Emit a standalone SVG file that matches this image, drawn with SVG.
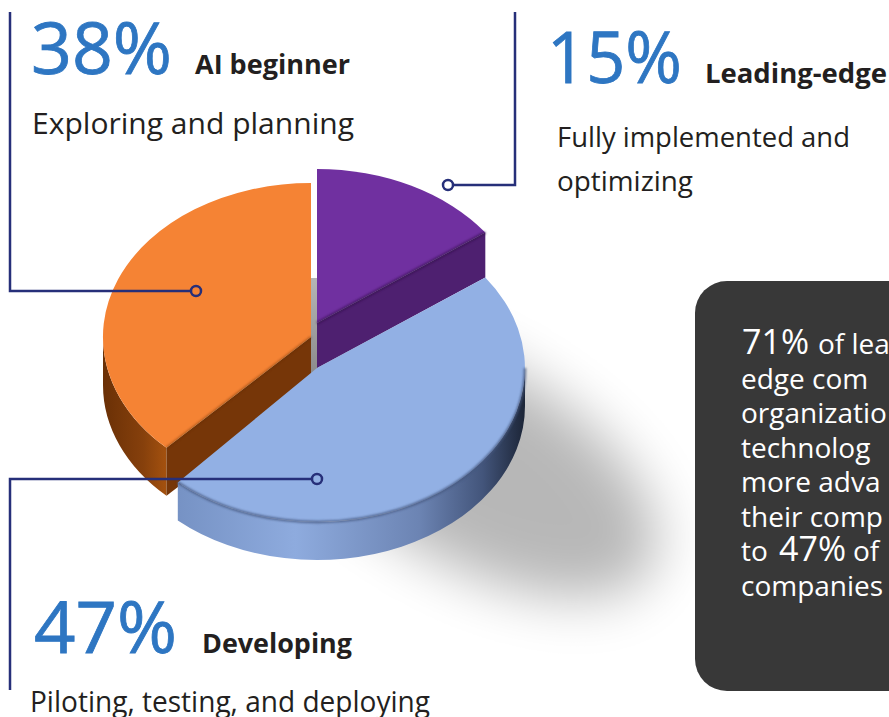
<svg xmlns="http://www.w3.org/2000/svg" width="889" height="717" viewBox="0 0 889 717">
<style>
  .pct{font-family:"Open Sans","Noto Sans",sans-serif;font-size:72px;fill:#2E76C2;stroke:#2E76C2;stroke-width:0.8}
  .ttl{font-family:"Open Sans","Noto Sans",sans-serif;font-size:26px;font-weight:bold;fill:#231F20}
  .dsc{font-family:"Open Sans","Noto Sans",sans-serif;font-size:30px;fill:#231F20}
  .box{font-family:"Open Sans","Noto Sans",sans-serif;font-size:28px;fill:#FFFFFF}
  .boxn{font-size:34px}
  .ln{fill:none;stroke:#262F79;stroke-width:2.5}
  .dot{stroke:#262F79;stroke-width:2.5}
</style>
<defs>
  <filter id="blur" x="-50%" y="-50%" width="200%" height="200%"><feGaussianBlur stdDeviation="28"/></filter>
  <filter id="soft" x="-10%" y="-10%" width="120%" height="120%"><feGaussianBlur stdDeviation="1"/></filter>
  <linearGradient id="gOrSide" x1="103" y1="0" x2="170" y2="0" gradientUnits="userSpaceOnUse">
    <stop offset="0" stop-color="#6A3006"/><stop offset="0.6" stop-color="#86400C"/><stop offset="1" stop-color="#A9540F"/>
  </linearGradient>
  <linearGradient id="gBlSide" x1="172" y1="0" x2="525" y2="0" gradientUnits="userSpaceOnUse">
    <stop offset="0" stop-color="#7591C3"/><stop offset="0.35" stop-color="#8EABDE"/><stop offset="0.7" stop-color="#6C84B3"/><stop offset="0.88" stop-color="#43557B"/><stop offset="1" stop-color="#1C2537"/>
  </linearGradient>
  <linearGradient id="gGray" x1="0" y1="278" x2="0" y2="372" gradientUnits="userSpaceOnUse">
    <stop offset="0" stop-color="#B5B5B5"/><stop offset="1" stop-color="#8C8C8C"/>
  </linearGradient>
</defs>
<rect width="889" height="717" fill="#FFFFFF"/>

<ellipse cx="465" cy="460" rx="215" ry="100" transform="rotate(30 465 460)" fill="#000" opacity="0.28" filter="url(#blur)"/>

<rect x="311" y="278" width="7" height="95" fill="url(#gGray)"/>

<g id="slice-orange">
  <path d="M166.5 447.8 A208 154 0 0 1 103 337 L103 385 A208 154 0 0 0 166.5 495.8 Z" fill="url(#gOrSide)"/>
  <path d="M311 337 L166.5 447.8 L166.5 495.8 L311 385 Z" fill="#763608"/>
  <path d="M311 337 L166.5 447.8 A208 154 0 0 1 311 183 Z" fill="#F58334"/>
  <path d="M311 337 L166.5 447.8" stroke="#5E2B06" stroke-width="2" opacity="0.5" filter="url(#soft)"/>
</g>

<g id="slice-purple">
  <path d="M317 323 L485.3 232.5 L485.3 277.5 L317 368 Z" fill="#4E2070"/>
  <path d="M317 323 L317 169 A208 154 0 0 1 485.3 232.5 Z" fill="#7030A0"/>
  <path d="M317 323 L485.3 232.5" stroke="#2E1045" stroke-width="3" opacity="0.6" filter="url(#soft)"/>
</g>

<g id="slice-blue">
  <path d="M525 368 A208 154 0 0 1 177.8 482.4 L177.8 520.4 A208 154 0 0 0 525 406 Z" fill="url(#gBlSide)"/>
  <path d="M317 368 L485.3 277.5 A208 154 0 0 1 177.8 482.4 Z" fill="#92B0E4"/>
  <path d="M525 368 A208 154 0 0 1 177.8 482.4" fill="none" stroke="#44577E" stroke-width="2.5" opacity="0.8" filter="url(#soft)"/>
</g>

<g id="connectors">
  <polyline class="ln" points="10,12 10,291 191,291"/>
  <polyline class="ln" points="515,12 515,185 453,185"/>
  <polyline class="ln" points="312,479 10,479 10,690"/>
  <circle class="dot" cx="196" cy="291" r="5" fill="#F58334"/>
  <circle class="dot" cx="448" cy="185" r="5" fill="#FFFFFF"/>
  <circle class="dot" cx="317" cy="479" r="5" fill="#92B0E4"/>
</g>

<g id="label-beginner">
  <text class="pct" x="31" y="74" textLength="141" lengthAdjust="spacingAndGlyphs">38%</text>
  <text class="ttl" x="195" y="74" textLength="155" lengthAdjust="spacingAndGlyphs">AI beginner</text>
  <text class="dsc" x="32" y="134" textLength="322" lengthAdjust="spacingAndGlyphs">Exploring and planning</text>
</g>

<g id="label-leading">
  <text class="pct" x="547" y="83" textLength="135" lengthAdjust="spacingAndGlyphs">15%</text>
  <text class="ttl" x="705" y="83" textLength="182" lengthAdjust="spacingAndGlyphs">Leading-edge</text>
  <text class="dsc" x="557" y="147" style="font-size:27px" textLength="293" lengthAdjust="spacingAndGlyphs">Fully implemented and</text>
  <text class="dsc" x="557" y="191" style="font-size:27px" textLength="136" lengthAdjust="spacingAndGlyphs">optimizing</text>
</g>

<g id="label-developing">
  <text class="pct" x="34" y="653" textLength="143" lengthAdjust="spacingAndGlyphs">47%</text>
  <text class="ttl" x="202" y="653" textLength="150" lengthAdjust="spacingAndGlyphs">Developing</text>
  <text class="dsc" x="30" y="712" textLength="400" lengthAdjust="spacingAndGlyphs">Piloting, testing, and deploying</text>
</g>

<g id="callout-box">
  <rect x="695" y="281" width="230" height="410" rx="32" ry="32" fill="#383838"/>
  <text class="box"><tspan class="boxn" x="742" y="354">71%</tspan><tspan x="818" y="354">of lea</tspan><tspan x="741" y="388.5">edge com</tspan><tspan x="741" y="423">organizatio</tspan><tspan x="741" y="457.5">technolog</tspan><tspan x="741" y="492">more adva</tspan><tspan x="741" y="526.5">their comp</tspan><tspan x="741" y="561">to</tspan><tspan class="boxn" x="779" y="561">47%</tspan><tspan x="853" y="561">of</tspan><tspan x="741" y="595.5">companies</tspan></text>
</g>
</svg>
